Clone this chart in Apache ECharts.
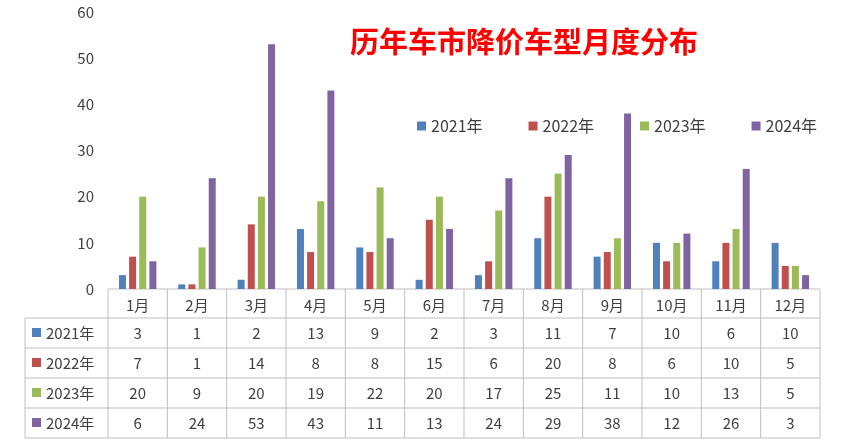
<!DOCTYPE html>
<html><head><meta charset="utf-8">
<script src="https://cdn.jsdelivr.net/npm/echarts@6/dist/echarts.min.js"></script>
<style>html,body{margin:0;padding:0;background:#fff}#c{width:844px;height:446px}</style>
</head><body><div id="c"></div>
<script>
var months = ['1月','2月','3月','4月','5月','6月','7月','8月','9月','10月','11月','12月'];
var seriesNames = ['2021年','2022年','2023年','2024年'];
var y2021 = [3,1,2,13,9,2,3,11,7,10,6,10];
var y2022 = [7,1,14,8,8,15,6,20,8,6,10,5];
var y2023 = [20,9,20,19,22,20,17,25,11,10,13,5];
var y2024 = [6,24,53,43,11,13,24,29,38,12,26,3];
var colors = ['#4F81BD','#C0504D','#9BBB59','#8064A2'];
var allData = [y2021,y2022,y2023,y2024];

var L = 108, R = 820, TOP = 12, AX = 289, ROW0 = 318, RH = 30, TBL = 25;
var cw = (R - L) / months.length;
var font = '"Microsoft YaHei","Noto Sans CJK SC",sans-serif';

var chart = echarts.init(document.getElementById('c'));
var graphic = [];
function line(x1,y1,x2,y2){graphic.push({type:'line',shape:{x1:x1,y1:y1,x2:x2,y2:y2},style:{stroke:'#bfbfbf',lineWidth:1},silent:true});}
line(L,AX,R,AX);
for (var r=0;r<=4;r++) line(TBL,ROW0+r*RH,R,ROW0+r*RH);
line(TBL,ROW0,TBL,ROW0+4*RH);
for (var i=0;i<=months.length;i++) line(L+i*cw,AX,L+i*cw,ROW0+4*RH);
for (var s=0;s<4;s++){
  var yc = ROW0 + s*RH + RH/2;
  graphic.push({type:'rect',shape:{x:32,y:yc-5,width:9,height:9},style:{fill:colors[s]}});
  graphic.push({type:'text',x:46,y:yc,style:{text:seriesNames[s],fill:'#404040',font:'15px '+font,textVerticalAlign:'middle'}});
  for (var m=0;m<months.length;m++){
    graphic.push({type:'text',x:L+(m+0.5)*cw,y:yc,style:{text:String(allData[s][m]),fill:'#404040',font:'15px '+font,textAlign:'center',textVerticalAlign:'middle'}});
  }
}
graphic.push({type:'text',x:524,y:42,style:{text:'历年车市降价车型月度分布',fill:'#FF0000',font:'bold 29px '+font,textAlign:'center',textVerticalAlign:'middle'}});

chart.setOption({
  animation:false,
  textStyle:{fontFamily:font},
  grid:{left:L,right:844-R,top:TOP,bottom:446-AX,containLabel:false},
  legend:{top:113,left:412,itemWidth:9,itemHeight:9,itemGap:46,icon:'rect',
    textStyle:{fontSize:16,color:'#404040'},data:seriesNames},
  xAxis:{type:'category',data:months,axisLine:{show:false},axisTick:{show:false},
    axisLabel:{fontSize:15,color:'#404040',margin:9}},
  yAxis:{type:'value',min:0,max:60,interval:10,splitLine:{show:false},
    axisLine:{show:false},axisTick:{show:false},axisLabel:{fontSize:15,color:'#404040',margin:14}},
  series:allData.map(function(d,i){return {name:seriesNames[i],type:'bar',data:d,barWidth:7,barGap:'45%',itemStyle:{color:colors[i]}};}),
  graphic:graphic
});
</script></body></html>
